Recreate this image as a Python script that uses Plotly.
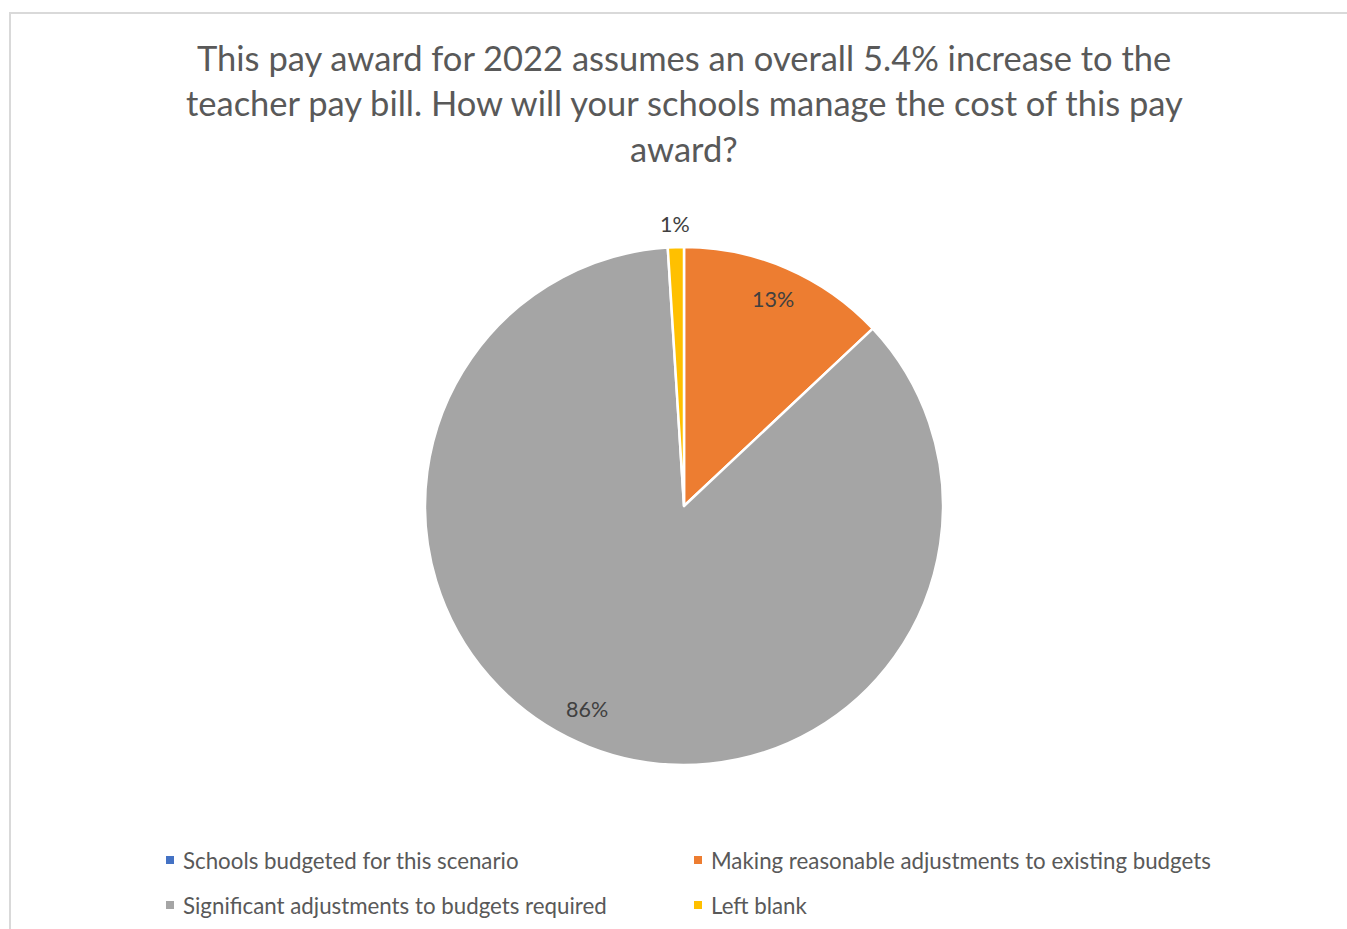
import math
import plotly.graph_objects as go

# Survey responses (share of schools, %)
categories = [
    "Schools budgeted for this scenario",
    "Making reasonable adjustments to existing budgets",
    "Significant adjustments to budgets required",
    "Left blank",
]
shares = [0, 13, 86, 1]
colors = ["#4472C4", "#ED7D31", "#A5A5A5", "#FFC000"]

title_lines = [
    "This pay award for 2022 assumes an overall 5.4% increase to the",
    "teacher pay bill. How will your schools manage the cost of this pay",
    "award?",
]

W, H = 1347, 929
FONT = "Lato"
TEXT = "#595959"


def px(x):
    return x / W


def py(y):
    return 1 - y / H


# pie geometry in pixels
cx, cy, R = 684, 506, 259

fig = go.Figure()
fig.add_trace(go.Pie(
    labels=categories,
    values=shares,
    marker=dict(colors=colors, line=dict(color="white", width=2.5)),
    sort=False,
    direction="clockwise",
    rotation=0,
    textinfo="none",
    hoverinfo="label+percent",
    showlegend=False,
    domain=dict(x=[px(cx - R), px(cx + R)], y=[py(cy + R), py(cy - R)]),
))

annotations = []

# data labels, placed along each slice's mid angle
total = sum(shares)
cum = 0
for v in shares:
    if v > 0:
        mid = (cum + v / 2) / total * 2 * math.pi
        if v / total > 0.5:
            mid += math.radians(4)
        r = 1.09 if v / total < 0.05 else 0.87
        lx = cx + r * R * math.sin(mid)
        ly = cy - r * R * math.cos(mid)
        annotations.append(dict(
            x=px(lx), y=py(ly), xref="paper", yref="paper",
            text=f"{round(v / total * 100)}%", showarrow=False,
            font=dict(family=FONT, size=21.5, color="#404040"),
            xanchor="center", yanchor="middle",
        ))
    cum += v

# title, one annotation per line
for i, line in enumerate(title_lines):
    annotations.append(dict(
        x=px(684), y=py(57 + 45.5 * i), xref="paper", yref="paper",
        text=line, showarrow=False,
        font=dict(family=FONT, size=34.5, color=TEXT),
        xanchor="center", yanchor="middle",
    ))

# legend: two columns, two rows
shapes = [dict(
    type="rect", xref="paper", yref="paper",
    x0=px(10), x1=px(W + 10), y0=py(13), y1=py(H + 10),
    line=dict(color="#D9D9D9", width=2), fillcolor="rgba(0,0,0,0)", layer="below",
)]
col_x = [166, 694]
row_y = [860, 905]
for i, (name, col) in enumerate(zip(categories, colors)):
    mx = col_x[i % 2]
    my = row_y[i // 2]
    shapes.append(dict(
        type="rect", xref="paper", yref="paper",
        x0=px(mx), x1=px(mx + 8), y0=py(my + 4), y1=py(my - 4),
        line=dict(width=0), fillcolor=col,
    ))
    annotations.append(dict(
        x=px(mx + 15), y=py(my), xref="paper", yref="paper",
        text=name, showarrow=False,
        font=dict(family=FONT, size=22.3, color=TEXT),
        xanchor="left", yanchor="middle",
    ))

fig.update_layout(
    width=W, height=H,
    margin=dict(l=0, r=0, t=0, b=0),
    paper_bgcolor="white",
    plot_bgcolor="white",
    annotations=annotations,
    shapes=shapes,
)

fig.write_html("out.html")
